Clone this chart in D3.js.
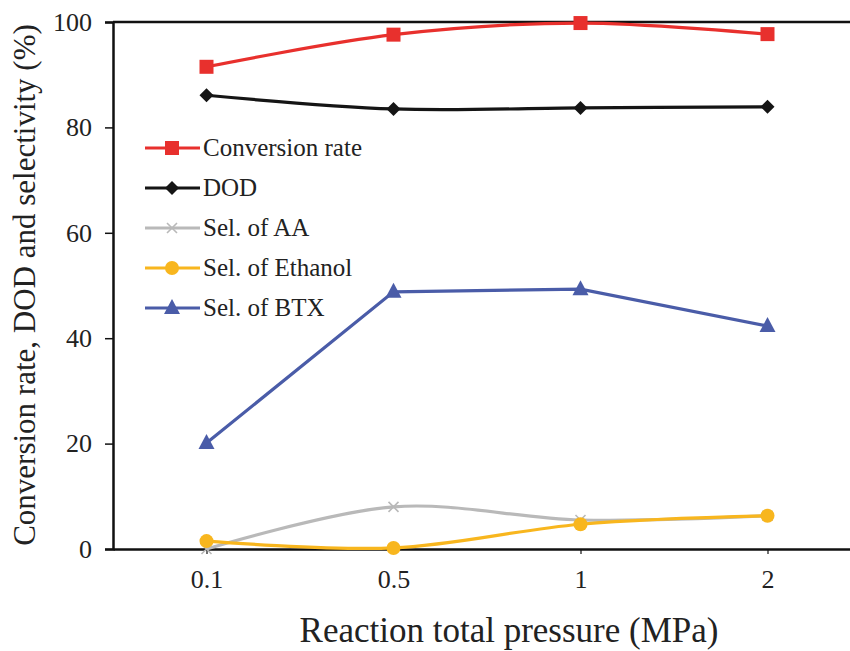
<!DOCTYPE html>
<html>
<head>
<meta charset="utf-8">
<script src="https://cdn.jsdelivr.net/npm/d3@7"></script>
<style>
  body { margin: 0; background: #fff; }
</style>
</head>
<body>
<svg width="850" height="651"></svg>
<script>
const pressures = ["0.1", "0.5", "1", "2"]
const conversion = [91.5, 97.6, 99.8, 97.7]
const dod = [86.1, 83.5, 83.7, 83.9]
const selAA = [0.0, 8.0, 5.5, 6.3]
const selEthanol = [1.5, 0.2, 4.7, 6.3]
const selBTX = [20.1, 48.8, 49.3, 42.3]
const yTicks = [0, 20, 40, 60, 80, 100]

const series = [
  {name: "Conversion rate", values: conversion, color: "#e8302d", marker: "square", smooth: true},
  {name: "DOD", values: dod, color: "#151515", marker: "diamond", smooth: true},
  {name: "Sel. of AA", values: selAA, color: "#b9b9b9", marker: "cross", smooth: true},
  {name: "Sel. of Ethanol", values: selEthanol, color: "#f8b61e", marker: "circle", smooth: true},
  {name: "Sel. of BTX", values: selBTX, color: "#4a5ca8", marker: "triangle", smooth: false}
]

const serif = "Liberation Serif"
const svg = d3.select("svg")
const mLeft = 113, mTop = 22, mBottom = 549, mRight = 861

const x = d3.scalePoint().domain(pressures).range([mLeft, mRight]).padding(0.5)
const y = d3.scaleLinear().domain([0, 100]).range([mBottom, mTop])

// frame: top line only (right side is cut off in the picture)
svg.append("line")
  .attr("x1", mLeft).attr("x2", 850).attr("y1", mTop).attr("y2", mTop)
  .attr("stroke", "#111").attr("stroke-width", 2.5)

const yAxis = svg.append("g")
  .attr("transform", `translate(${mLeft},0)`)
  .call(d3.axisLeft(y).tickValues(yTicks).tickSize(8).tickPadding(13))
yAxis.select(".domain").attr("stroke", "#111").attr("stroke-width", 2.5)
yAxis.selectAll(".tick line").attr("stroke", "#111").attr("stroke-width", 1.5)
yAxis.selectAll("text").style("font-family", serif).style("font-size", "26px").attr("fill", "#222")

const xAxis = svg.append("g")
  .attr("transform", `translate(0,${mBottom})`)
  .call(d3.axisBottom(x).tickSize(5).tickSizeOuter(0).tickPadding(16))
xAxis.select(".domain").attr("stroke", "#111").attr("stroke-width", 2.5)
xAxis.selectAll(".tick line").attr("stroke", "#111").attr("stroke-width", 1.2)
xAxis.selectAll("text").style("font-family", serif).style("font-size", "26px").attr("fill", "#222")

// axis titles
svg.append("text")
  .attr("x", 509).attr("y", 642)
  .attr("text-anchor", "middle")
  .style("font-family", serif).style("font-size", "35px").attr("fill", "#222")
  .text("Reaction total pressure (MPa)")

svg.append("text")
  .attr("transform", "translate(35,285) rotate(-90)")
  .attr("text-anchor", "middle")
  .style("font-family", serif).style("font-size", "31px").attr("fill", "#222")
  .text("Conversion rate, DOD and selectivity (%)")

function drawMarker(g, type, color) {
  if (type === "square") {
    g.append("rect").attr("x", -7).attr("y", -7).attr("width", 14).attr("height", 14).attr("fill", color)
  } else if (type === "diamond") {
    g.append("path").attr("d", "M0,-7L7,0L0,7L-7,0Z").attr("fill", color)
  } else if (type === "cross") {
    g.append("path").attr("d", "M-5,-5L5,5M-5,5L5,-5").attr("stroke", color).attr("stroke-width", 1.6).attr("fill", "none")
  } else if (type === "circle") {
    g.append("circle").attr("r", 7).attr("fill", color)
  } else if (type === "triangle") {
    g.append("path").attr("d", "M0,-9L8,6L-8,6Z").attr("fill", color)
  }
}

const plot = svg.append("g")
series.forEach(s => {
  const line = d3.line()
    .x((d, i) => x(pressures[i]))
    .y(d => y(d))
    .curve(s.smooth ? d3.curveCatmullRom.alpha(0.5) : d3.curveLinear)
  plot.append("path")
    .datum(s.values)
    .attr("d", line)
    .attr("fill", "none")
    .attr("stroke", s.color)
    .attr("stroke-width", 3.2)
  s.values.forEach((v, i) => {
    const g = plot.append("g").attr("transform", `translate(${x(pressures[i])},${y(v)})`)
    drawMarker(g, s.marker, s.color)
  })
})

// legend
const legend = svg.append("g")
series.forEach((s, i) => {
  const ly = 148 + i * 40
  legend.append("line")
    .attr("x1", 145).attr("x2", 200).attr("y1", ly).attr("y2", ly)
    .attr("stroke", s.color).attr("stroke-width", 3.2)
  drawMarker(legend.append("g").attr("transform", `translate(172,${ly})`), s.marker, s.color)
  legend.append("text")
    .attr("x", 203).attr("y", ly + 8)
    .style("font-family", serif).style("font-size", "25px").attr("fill", "#222")
    .text(s.name)
})
</script>
</body>
</html>
